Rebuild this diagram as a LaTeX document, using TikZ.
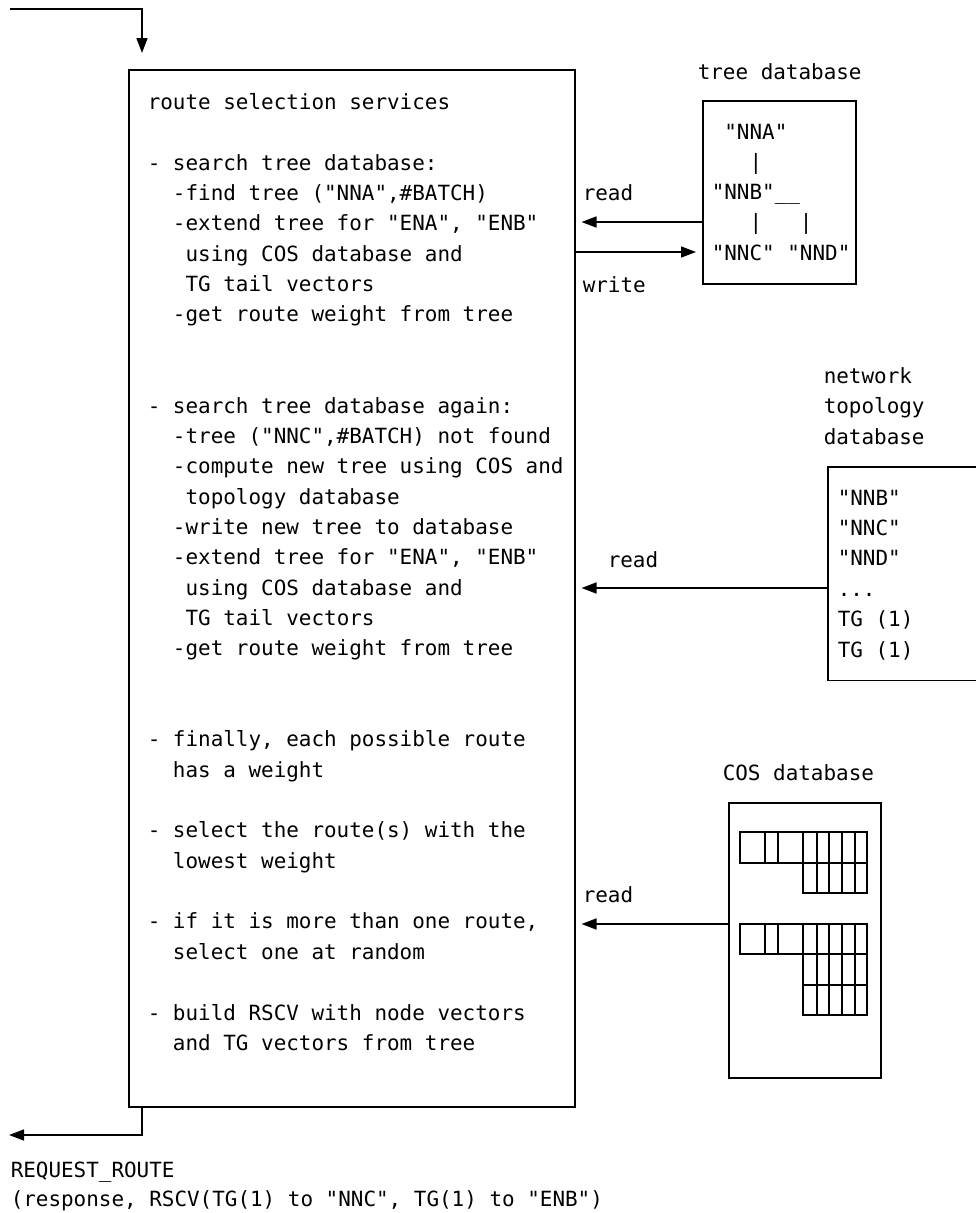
\documentclass[tikz,border=0pt]{standalone}
\usepackage{fontspec}
\newfontfamily\monofnt{DejaVu Sans Mono}
\usetikzlibrary{arrows.meta}
\newcommand\mline[4]{\node[txt] (#1) at ({147+#2*12.6},{109.5+#3*30.35}) {#4};}
\begin{document}
\begin{tikzpicture}[x=1pt,y=-1pt,
  txt/.style={anchor=base west, inner sep=0pt, font=\monofnt\fontsize{20.93}{30}\selectfont},
  box/.style={draw, line width=1.5pt, anchor=north west, inner sep=0pt},
  conn/.style={line width=1.5pt, -{Triangle[length=15pt,width=11pt]}},
  grid/.style={line width=1.2pt},
  line width=1.5pt]
\useasboundingbox (0,0) rectangle (976,1213);

% main box
\node[box, minimum width=446pt, minimum height=1037pt] (rss) at (128,69) {};
\mline{m0}{0}{0}{route selection services}
\mline{m1}{0}{2}{- search tree database:}
\mline{m2}{2}{3}{-find tree ("NNA",\#BATCH)}
\mline{m3}{2}{4}{-extend tree for "ENA", "ENB"}
\mline{m4}{3}{5}{using COS database and}
\mline{m5}{3}{6}{TG tail vectors}
\mline{m6}{2}{7}{-get route weight from tree}
\mline{m7}{0}{10}{- search tree database again:}
\mline{m8}{2}{11}{-tree ("NNC",\#BATCH) not found}
\mline{m9}{2}{12}{-compute new tree using COS and}
\mline{m10}{3}{13}{topology database}
\mline{m11}{2}{14}{-write new tree to database}
\mline{m12}{2}{15}{-extend tree for "ENA", "ENB"}
\mline{m13}{3}{16}{using COS database and}
\mline{m14}{3}{17}{TG tail vectors}
\mline{m15}{2}{18}{-get route weight from tree}
\mline{m16}{0}{21}{- finally, each possible route}
\mline{m17}{2}{22}{has a weight}
\mline{m18}{0}{24}{- select the route(s) with the}
\mline{m19}{2}{25}{lowest weight}
\mline{m20}{0}{27}{- if it is more than one route,}
\mline{m21}{2}{28}{select one at random}
\mline{m22}{0}{30}{- build RSCV with node vectors}
\mline{m23}{2}{31}{and TG vectors from tree}

% tree database
\node[txt] (treelbl) at (697,79) {tree database};
\node[box, minimum width=153pt, minimum height=183pt] (tree) at (702,100) {};
\node[txt] (tA) at (723.6,139.5) {"NNA"};
\node[txt] (tb1) at (748.8,169.5) {|};
\node[txt] (tB) at (711,199.5) {"NNB"\_\_};
\node[txt] (tb2) at (748.8,229.5) {|};
\node[txt] (tb3) at (799.2,229.5) {|};
\node[txt] (tC) at (711,260.5) {"NNC"};
\node[txt] (tD) at (786.6,260.5) {"NND"};

% network topology database
\node[txt] (nl1) at (823,383) {network};
\node[txt] (nl2) at (823,413.5) {topology};
\node[txt] (nl3) at (823,444) {database};
\node[anchor=north west, inner sep=0pt, minimum width=148pt, minimum height=212pt] (topo) at (828,467) {};
\draw (topo.north east) -- (topo.north west) -- (topo.south west) -- (topo.south east);
\node[txt] (n1) at (837,505.5) {"NNB"};
\node[txt] (n2) at (837,535.5) {"NNC"};
\node[txt] (n3) at (837,565.5) {"NND"};
\node[txt] (n4) at (837,596) {...};
\node[txt] (n5) at (837,626.5) {TG (1)};
\node[txt] (n6) at (837,657) {TG (1)};

% COS database
\node[txt] (coslbl) at (722,780) {COS database};
\node[box, minimum width=152pt, minimum height=275pt] (cos) at (728,802) {};
\draw[grid] (740,832) rectangle (867,863);
\foreach \x in {765,778,803,817,829,842,855} \draw[grid] (\x,832) -- (\x,863);
\draw[grid] (803,863) rectangle (867,893);
\foreach \x in {817,829,842,855} \draw[grid] (\x,863) -- (\x,893);
\draw[grid] (740,924) rectangle (867,954);
\foreach \x in {765,778,803,817,829,842,855} \draw[grid] (\x,924) -- (\x,954);
\draw[grid] (803,954) rectangle (867,1015);
\draw[grid] (803,985) -- (867,985);
\foreach \x in {817,829,842,855} \draw[grid] (\x,954) -- (\x,1015);

% connectors
\coordinate (ytr) at (0,222);
\coordinate (ytw) at (0,252);
\coordinate (ytp) at (0,588);
\coordinate (ycos) at (0,924);
\draw[conn, shorten >=6pt] (tree.west |- ytr) -- (rss.east |- ytr);
\draw[conn, shorten >=6pt] (rss.east |- ytw) -- (tree.west |- ytw);
\draw[conn, shorten >=6pt] (topo.west |- ytp) -- (rss.east |- ytp);
\draw[conn, shorten >=6pt] (cos.west |- ycos) -- (rss.east |- ycos);
\node[txt] (rd1) at (582,200) {read};
\node[txt] (wr1) at (582,292) {write};
\node[txt] (rd2) at (607,567) {read};
\node[txt] (rd3) at (582,902) {read};

% entry and exit
\coordinate (in0) at (10,9);
\coordinate (inc) at (142,9);
\coordinate (intip) at (142,53);
\draw[conn] (in0) -- (inc) -- (intip);
\coordinate (outc) at (142,1135);
\coordinate (outtip) at (9,1135);
\draw[conn] (rss.south -| outc) -- (outc) -- (outtip);
\node[txt] (resp1) at (10,1177) {REQUEST\_ROUTE};
\node[txt] (resp2) at (10,1206) {(response, RSCV(TG(1) to "NNC", TG(1) to "ENB")};
\end{tikzpicture}
\end{document}
